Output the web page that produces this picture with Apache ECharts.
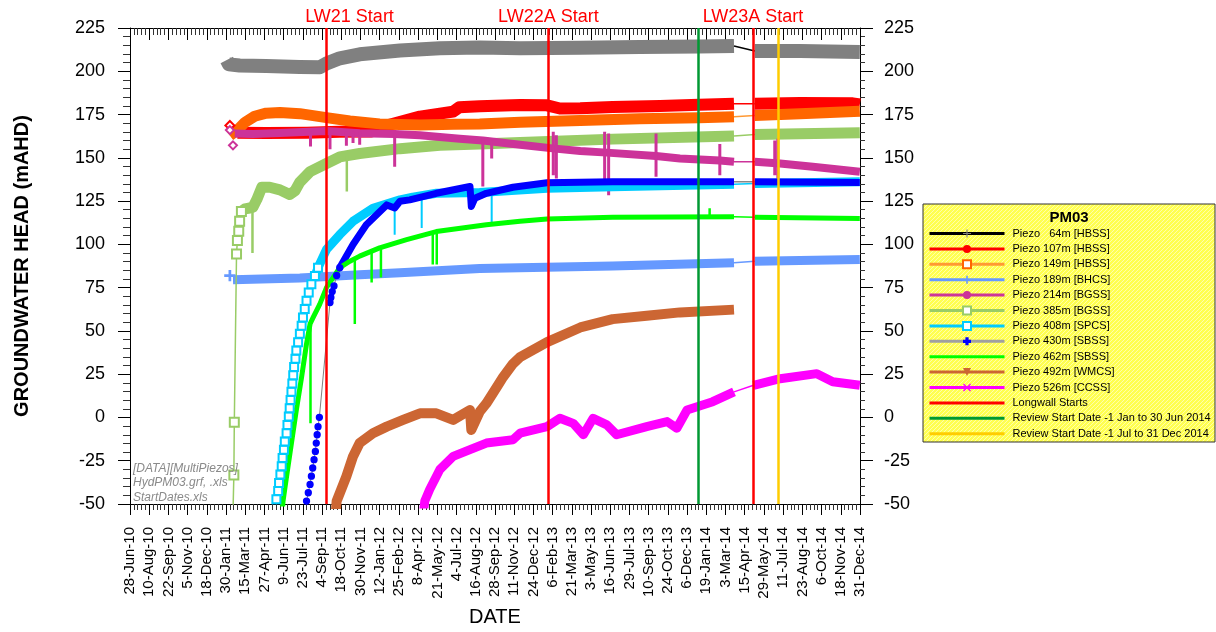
<!DOCTYPE html>
<html><head><meta charset="utf-8">
<script src="https://cdn.jsdelivr.net/npm/echarts@6/dist/echarts.min.js"></script>
<style>html,body{margin:0;padding:0;background:#fff}#c{width:1216px;height:632px}</style>
</head><body><div id="c"></div>
<script>
// ---------- axis / tick data ----------
const AXIS_START_DAY = -0.47;      // days after 28-Jun-2010
const TICK_DAYS = 43.3662;         // days between labelled ticks
const N_TICKS = 38;
const MONTHS = ['Jan','Feb','Mar','Apr','May','Jun','Jul','Aug','Sep','Oct','Nov','Dec'];
const Y_MIN = -50, Y_MAX = 225, Y_STEP = 25;

// ---------- event lines ----------
const LW_NAMES = ['LW21 Start','LW22A Start','LW23A Start'];
const LW_DATES = ['2011-09-14','2013-01-27','2014-05-04'];
const REVIEW1_DATE = '2014-01-01';
const REVIEW2_DATE = '2014-07-01';

// ---------- series values [date, mAHD]; null = logger gap ----------
const p64 = [['2011-02-01',206.5],['2011-02-06',204.0],['2011-03-02',203.3],['2011-05-01',203.0],['2011-07-16',202.5],['2011-08-30',202.3],['2011-09-14',204.5],['2011-10-14',207.5],['2011-11-28',209.8],['2012-02-27',212.0],['2012-05-27',213.3],['2012-08-25',213.8],['2012-11-24',213.3],['2013-04-09',213.6],['2013-08-21',214.0],['2014-01-02',214.3],['2014-03-22',214.6],['2014-04-14',null],['2014-05-08',211.7],['2014-08-18',211.7],['2014-12-31',211.2]];
const p107 = [['2011-02-25',164.5],['2011-05-01',164.3],['2011-08-01',164.5],['2011-10-14',165.0],['2011-12-25',165.2],['2012-01-28',168.7],['2012-04-12',173.8],['2012-06-26',176.7],['2012-07-10',179.2],['2012-08-25',179.8],['2012-11-24',180.5],['2013-01-24',180.3],['2013-02-22',178.5],['2013-04-09',178.6],['2013-06-21',179.3],['2013-10-06',180.0],['2014-01-02',180.6],['2014-03-22',181.3],['2014-04-14',null],['2014-05-08',181.2],['2014-08-18',181.6],['2014-12-15',181.5],['2014-12-31',180.8]];
const p149 = [['2011-02-08',162.8],['2011-02-25',166.0],['2011-03-14',170.5],['2011-04-05',174.0],['2011-05-01',175.8],['2011-06-01',176.2],['2011-07-16',175.5],['2011-09-14',173.2],['2011-11-06',171.3],['2012-01-12',169.6],['2012-04-12',169.0],['2012-06-26',169.4],['2012-08-25',169.6],['2012-11-24',170.6],['2013-04-09',171.6],['2013-08-21',172.5],['2014-01-02',173.2],['2014-03-22',173.7],['2014-04-14',null],['2014-05-08',174.4],['2014-08-18',175.5],['2014-12-31',176.9]];
const p189 = [['2011-02-15',79.5],['2011-07-16',80.6],['2011-11-28',82.5],['2012-02-27',83.6],['2012-08-25',86.0],['2013-06-21',87.5],['2014-03-22',89.4],['2014-04-14',null],['2014-05-08',90.3],['2014-12-31',91.3]];
const p214 = [['2011-02-19',164.0],['2011-04-01',163.8],['2011-06-01',164.3],['2011-09-14',165.5],['2011-11-28',164.2],['2012-02-15',163.8],['2012-04-12',163.0],['2012-07-11',161.0],['2012-09-01',160.0],['2012-11-24',157.5],['2013-02-11',155.3],['2013-04-09',154.0],['2013-06-08',153.0],['2013-09-27',151.0],['2013-11-20',149.6],['2014-02-18',148.4],['2014-03-22',147.7],['2014-04-14',null],['2014-05-08',147.7],['2014-07-04',146.7],['2014-09-16',144.8],['2014-12-31',142.0]];
const p214Spikes = [['2011-08-09',165,156.5],['2011-09-22',166,155.0],['2011-10-29',165,157.0],['2011-11-13',165,158.5],['2011-11-28',165,157.5],['2012-02-15',164,144.8],['2012-09-01',162,133.5],['2012-09-21',160,149.6],['2013-02-07',165,140.0],['2013-02-14',163,138.0],['2013-06-03',165,135.0],['2013-06-12',164,128.4],['2013-09-27',164,139.0],['2014-02-18',158,140.0],['2014-06-22',160,140.0],['2014-06-29',161,138.0]];
const p385Rise = [['2011-02-15',-55],['2011-02-17',-33.3],['2011-02-18',-2.8],['2011-02-23',94.5],['2011-02-25',102.2],['2011-02-28',107.6],['2011-03-02',113.4],['2011-03-06',119.0]];
const p385 = [['2011-03-06',119.0],['2011-03-14',120.5],['2011-03-25',121.0],['2011-04-01',121.5],['2011-04-10',126.0],['2011-04-21',133.0],['2011-05-09',133.0],['2011-06-01',131.5],['2011-06-23',128.8],['2011-07-05',131.0],['2011-07-16',136.0],['2011-08-08',142.0],['2011-09-14',146.7],['2011-10-14',150.5],['2011-11-28',152.5],['2012-02-27',155.3],['2012-05-27',157.2],['2012-08-25',158.0],['2012-11-24',158.8],['2013-06-21',160.8],['2014-03-22',162.6],['2014-04-14',null],['2014-05-08',163.5],['2014-12-31',164.5]];
const p385Spikes = [['2011-03-31',120,95.0],['2011-10-30',151,130.5]];
const p408Rise = [['2011-05-24',-47.3],['2011-05-28',-42.5],['2011-05-30',-37.8],['2011-06-02',-33.0],['2011-06-05',-28.2],['2011-06-07',-23.4],['2011-06-10',-18.6],['2011-06-12',-13.9],['2011-06-16',-9.1],['2011-06-18',-4.3],['2011-06-21',0.5],['2011-06-23',5.3],['2011-06-25',10.1],['2011-06-27',14.8],['2011-06-29',19.6],['2011-07-01',24.4],['2011-07-03',29.2],['2011-07-06',33.9],['2011-07-08',38.7],['2011-07-12',43.5],['2011-07-16',48.3],['2011-07-20',53.0],['2011-07-23',57.8],['2011-07-27',62.6],['2011-07-31',67.4],['2011-08-05',72.2],['2011-08-11',77.0],['2011-08-19',81.7],['2011-08-26',86.5]];
const p408 = [['2011-08-19',81.7],['2011-08-26',86.5],['2011-09-14',97.0],['2011-10-14',105.6],['2011-11-13',113.3],['2011-12-28',120.9],['2012-02-27',125.7],['2012-03-27',127.3],['2012-05-19',129.5],['2012-08-25',130.0],['2013-01-24',132.4],['2013-06-21',133.3],['2014-03-22',134.7],['2014-04-14',null],['2014-05-08',135.2],['2014-12-31',136.2]];
const p408Spikes = [['2012-02-15',125,105.6],['2012-04-16',128,109.4],['2012-09-21',130.8,112.3]];
const p430Rise = [['2011-07-31',-48.3],['2011-08-04',-43.5],['2011-08-08',-38.7],['2011-08-11',-33.9],['2011-08-14',-29.2],['2011-08-17',-24.4],['2011-08-20',-19.6],['2011-08-22',-14.8],['2011-08-24',-10.0],['2011-08-26',-5.3],['2011-08-29',0.1],['2011-09-22',66.4],['2011-09-24',69.3],['2011-09-27',72.7],['2011-10-01',76.0],['2011-10-07',82.0],['2011-10-14',86.5]];
const p430 = [['2011-10-14',86.5],['2011-11-13',99.9],['2011-12-13',111.3],['2012-01-28',122.8],['2012-02-15',121.0],['2012-02-27',124.9],['2012-03-20',125.7],['2012-05-19',129.5],['2012-08-03',133.4],['2012-08-06',121.9],['2012-08-14',126.6],['2012-09-09',129.5],['2012-11-08',133.0],['2013-01-24',135.6],['2013-06-21',136.2],['2014-03-22',136.2],['2014-04-14',null],['2014-05-08',136.2],['2014-12-31',135.8]];
const p462 = [['2011-06-06',-55],['2011-06-08',-48.3],['2011-06-16',-34.0],['2011-06-27',-14.8],['2011-07-08',4.3],['2011-07-20',23.4],['2011-07-31',42.5],['2011-08-08',54.0],['2011-08-15',57.8],['2011-08-30',65.5],['2011-09-14',75.0],['2011-09-29',80.8],['2011-10-14',86.5],['2011-11-06',90.3],['2011-11-28',93.2],['2012-01-12',98.0],['2012-03-13',102.7],['2012-05-19',107.4],['2012-09-09',111.3],['2012-11-24',113.3],['2013-01-24',114.6],['2013-06-21',115.7],['2014-03-22',115.9],['2014-04-14',null],['2014-05-08',115.6],['2014-12-31',115.0]];
const p462Spikes = [['2011-08-09',55,-3.4],['2011-11-17',92,54.0],['2011-12-25',97,77.9],['2012-01-15',98.5,80.8],['2012-05-11',107,88.4],['2012-05-20',107.5,88.4],['2014-01-26',120.9,115.9]];
const p492 = [['2011-10-05',-55],['2011-10-07',-48.3],['2011-10-29',-34.0],['2011-11-13',-22.5],['2011-11-28',-14.8],['2011-12-28',-9.1],['2012-01-28',-5.3],['2012-03-05',-1.4],['2012-04-12',2.4],['2012-05-19',2.4],['2012-06-26',-1.4],['2012-08-03',4.3],['2012-08-06',-7.2],['2012-08-25',3.3],['2012-09-09',8.1],['2012-10-03',17.7],['2012-10-17',23.4],['2012-11-08',31.0],['2012-11-24',34.9],['2013-01-24',43.5],['2013-04-09',52.0],['2013-06-21',56.8],['2013-09-06',58.8],['2013-11-20',60.7],['2014-03-22',62.3]];
const p526 = [['2012-04-20',-55],['2012-04-23',-48.3],['2012-05-04',-41.6],['2012-05-27',-30.1],['2012-06-26',-22.5],['2012-08-03',-18.6],['2012-09-09',-14.8],['2012-11-08',-12.9],['2012-11-24',-9.1],['2013-01-24',-5.3],['2013-02-22',-0.5],['2013-03-24',-3.4],['2013-04-16',-10.0],['2013-05-08',-0.5],['2013-06-08',-4.3],['2013-06-30',-10.0],['2013-09-06',-5.3],['2013-10-22',-2.4],['2013-11-13',-6.2],['2013-12-06',4.3],['2014-02-02',9.1],['2014-03-22',14.8],['2014-04-14',null],['2014-05-05',18.6],['2014-07-04',22.4],['2014-09-25',25.3],['2014-10-31',20.6],['2014-12-31',18.6]];
const p107Start = [['2011-02-08',168.7]];
const p214Start = [['2011-02-08',166.0],['2011-02-15',157.2]];
const p189Start = [['2011-02-08',81.9]];

// ---------- helpers ----------
const START = Date.UTC(2010,5,28);
function dayOf(s){ const a=s.split('-').map(Number); return (Date.UTC(a[0],a[1]-1,a[2])-START)/86400000; }
function xOf(s){ return (dayOf(s)-AXIS_START_DAY)/TICK_DAYS; }
function toPts(arr){ return arr.map(p=>[xOf(p[0]), p[1]]); }
function spikePts(arr){ const out=[]; arr.forEach(s=>{ const x=xOf(s[0]); out.push([x,s[1]],[x,s[2]],[x,null]); }); return out; }
function fmtTick(k){
  const day = Math.round(k*TICK_DAYS + AXIS_START_DAY);
  const d = new Date(START + day*86400000);
  return d.getUTCDate()+'-'+MONTHS[d.getUTCMonth()]+'-'+String(d.getUTCFullYear()).slice(2);
}
function connector(arr){
  const i = arr.findIndex(p=>p[1]===null);
  if (i<1 || i>=arr.length-1) return null;
  return [arr[i-1], arr[i+1]];
}
const FONT = "'Liberation Sans', Arial, Helvetica, sans-serif";
const PLUS = 'path://M4.3,0H5.7V4.3H10V5.7H5.7V10H4.3V5.7H0V4.3H4.3Z';
const VPLUS = 'path://M4.4,0H5.6V4.5H8V5.5H5.6V10H4.4V5.5H2V4.5H4.4Z';
const FATCROSS = 'path://M3,0H7V3H10V7H7V10H3V7H0V3H3Z';
const DOWNTRI = 'path://M0,0H10L5,10Z';
const XMARK = 'path://M1.2,0L5,3.8L8.8,0L10,1.2L6.2,5L10,8.8L8.8,10L5,6.2L1.2,10L0,8.8L3.8,5L0,1.2Z';

// ---------- series styling (legend order) ----------
const PIEZOS = [
 {name:'Piezo   64m [HBSS]', data:p64,  color:'#808080', width:14, conn:'#000000', leg:'#000000', sym:PLUS,       symColor:'#808080'},
 {name:'Piezo 107m [HBSS]', data:p107, color:'#FF0000', width:12, conn:'#FF0000', leg:'#FF0000', sym:'circle',   symColor:'#FF0000'},
 {name:'Piezo 149m [HBSS]', data:p149, color:'#FF6600', width:11, conn:'#FF9933', leg:'#FF9933', sym:'emptyRect', symColor:'#FF6600'},
 {name:'Piezo 189m [BHCS]', data:p189, color:'#6699FF', width:9,  conn:'#6699FF', leg:'#6699FF', sym:VPLUS,      symColor:'#6699FF'},
 {name:'Piezo 214m [BGSS]', data:p214, color:'#CC3399', width:8,  conn:'#CC3399', leg:'#CC3399', sym:'circle',   symColor:'#CC3399', spikes:p214Spikes, spikeW:3},
 {name:'Piezo 385m [BGSS]', data:p385, color:'#99CC66', width:11, conn:'#99CC66', leg:'#99CC66', sym:'emptyRect', symColor:'#99CC66', spikes:p385Spikes, spikeW:2.5},
 {name:'Piezo 408m [SPCS]', data:p408, color:'#00CCFF', width:9,  conn:'#00CCFF', leg:'#00CCFF', sym:'emptyRect', symColor:'#00CCFF', spikes:p408Spikes, spikeW:2},
 {name:'Piezo 430m [SBSS]', data:p430, color:'#0000FF', width:7,  conn:'#888888', leg:'#A0A0A0', sym:FATCROSS,   symColor:'#0000FF'},
 {name:'Piezo 462m [SBSS]', data:p462, color:'#00FF00', width:5,  conn:'#00FF00', leg:'#00FF00', sym:'circle',   symColor:'#00FF00', hideSym:true, spikes:p462Spikes, spikeW:2.5},
 {name:'Piezo 492m [WMCS]', data:p492, color:'#CC6633', width:10, conn:'#CC6633', leg:'#CC6633', sym:DOWNTRI,    symColor:'#CC6633'},
 {name:'Piezo 526m [CCSS]', data:p526, color:'#FF00FF', width:9,  conn:'#FF00FF', leg:'#FF00FF', sym:XMARK,      symColor:'#FF00FF'}
];
const DRAW_ORDER = [0,1,2,3,5,4,6,7,8,9,10];
const EVENTS = [
 {name:'Longwall Starts', color:'#FF0000'},
 {name:'Review Start Date -1 Jan to 30 Jun 2014', color:'#009933'},
 {name:'Review Start Date -1 Jul to 31 Dec 2014', color:'#FFCC00'}
];

// ---------- build series ----------
const series = [];
DRAW_ORDER.forEach(i=>{
  const s = PIEZOS[i];
  series.push({name:s.name, type:'line', data:toPts(s.data), symbol:s.sym, showSymbol:false,
    connectNulls:false, silent:true, z:2,
    lineStyle:{color:s.color, width:s.width, cap:'butt', join:'round'}, itemStyle:{color:s.color}});
  if (s.spikes) series.push({name:'_spk'+i, type:'line', data:spikePts(s.spikes), symbol:'none', silent:true, z:2,
    connectNulls:false, lineStyle:{color:s.color, width:s.spikeW, cap:'butt'}});
  const c = connector(s.data);
  if (c) series.push({name:'_conn'+i, type:'line', data:toPts(c), symbol:'none', silent:true, z:2,
    lineStyle:{color:s.conn, width:1.5}});
});
function markerSeries(id, arr, sym, size, color, lineColor, lineWidth){
  return {name:id, type:'line', data:toPts(arr), symbol:sym, symbolSize:size, showSymbol:true, showAllSymbol:true,
    silent:true, z:3, lineStyle:{color:lineColor, width:lineWidth}, itemStyle:{color:color, borderColor:color, borderWidth:1.3}};
}
series.push(markerSeries('_r385', p385Rise, 'emptyRect', 9, '#99CC66', '#99CC66', 1.5));
series.push(markerSeries('_r408', p408Rise, 'emptyRect', 8, '#00CCFF', '#00CCFF', 1));
series.push(markerSeries('_r430', p430Rise, 'circle', 6, '#0000FF', '#808080', 1));
series.push(markerSeries('_s107', p107Start, 'emptyDiamond', 9, '#FF0000', '#FF0000', 0));
series.push(markerSeries('_s214', p214Start, 'emptyDiamond', 8, '#CC3399', '#CC3399', 0));
series.push(markerSeries('_s189', p189Start, PLUS, 10, '#6699FF', '#6699FF', 0));

series.push({name:EVENTS[0].name, type:'line', data:[], symbol:'none', lineStyle:{color:EVENTS[0].color, width:2.5},
  markLine:{silent:true, symbol:['none','none'], animation:false,
    lineStyle:{color:EVENTS[0].color, width:2.5, type:'solid'},
    label:{show:true, position:'end', color:'#FF0000', fontSize:18, fontFamily:FONT, distance:2, formatter:p=>p.name},
    data: LW_DATES.map((d,i)=>({name:LW_NAMES[i], xAxis:xOf(d), label: i===0 ? {padding:[0,0,0,46]} : {}}))}});
[[EVENTS[1], REVIEW1_DATE],[EVENTS[2], REVIEW2_DATE]].forEach(([ev,d])=>{
  series.push({name:ev.name, type:'line', data:[], symbol:'none', lineStyle:{color:ev.color, width:2.5},
    markLine:{silent:true, symbol:['none','none'], animation:false,
      lineStyle:{color:ev.color, width:2.5, type:'solid'}, label:{show:false},
      data:[{xAxis:xOf(d)}]}});
});

const legendData = PIEZOS.map(s=>({name:s.name, lineStyle:{color:s.leg, width:3},
    itemStyle: s.hideSym ? {color:s.symColor, opacity:0} : {color:s.symColor}}))
  .concat(EVENTS.map(e=>({name:e.name, icon:'path://M0,0H75V3H0Z', itemStyle:{color:e.color}})));

// ---------- hatch pattern for legend box ----------
const pc = document.createElement('canvas'); pc.width = 4; pc.height = 4;
const g = pc.getContext('2d');
g.fillStyle = '#FFFF50'; g.fillRect(0,0,4,4);
g.fillStyle = '#FFFFA8'; for (let i=0;i<4;i++) g.fillRect(i,3-i,1,1);

const tickStyle = {color:'#000', width:1};
const xBase = {type:'value', min:0, max:N_TICKS, interval:1, splitLine:{show:false},
  axisLine:{show:true, onZero:false, lineStyle:{color:'#000', width:1}}};
const yBase = {type:'value', min:Y_MIN, max:Y_MAX, interval:Y_STEP, splitLine:{show:false},
  axisLine:{show:true, onZero:false, lineStyle:{color:'#000', width:1}}};

const option = {
  animation:false,
  backgroundColor:'#ffffff',
  grid:{left:130, right:356, top:28, bottom:124, containLabel:false},
  xAxis:[
    Object.assign({}, xBase, {position:'bottom',
      axisTick:{show:true, length:11, lineStyle:tickStyle},
      minorTick:{show:true, splitNumber:5, length:6, lineStyle:{color:'#333', width:1}},
      axisLabel:{rotate:90, fontSize:15, fontFamily:FONT, color:'#000', margin:23, formatter:fmtTick},
      name:'DATE', nameLocation:'middle', nameGap:103,
      nameTextStyle:{fontSize:20, fontFamily:FONT, color:'#000'}}),
    Object.assign({}, xBase, {position:'top',
      axisTick:{show:true, inside:true, length:12, lineStyle:tickStyle},
      minorTick:{show:true, splitNumber:5, length:7, lineStyle:{color:'#333', width:1}},
      axisLabel:{show:false}})
  ],
  yAxis:[
    Object.assign({}, yBase, {position:'left',
      axisTick:{show:true, length:12, lineStyle:tickStyle},
      minorTick:{show:true, splitNumber:5, length:7, lineStyle:{color:'#333', width:1}},
      axisLabel:{fontSize:18, fontFamily:FONT, color:'#000', margin:25},
      name:'GROUNDWATER HEAD (mAHD)', nameLocation:'middle', nameGap:98,
      nameTextStyle:{fontSize:20, fontWeight:'bold', fontFamily:FONT, color:'#000'}}),
    Object.assign({}, yBase, {position:'right',
      axisTick:{show:true, length:13, lineStyle:tickStyle},
      minorTick:{show:true, splitNumber:5, length:5, lineStyle:{color:'#333', width:1}},
      axisLabel:{fontSize:18, fontFamily:FONT, color:'#000', margin:24}})
  ],
  legend:{orient:'vertical', left:928, top:228, padding:0, itemWidth:75, itemHeight:10, itemGap:4.4,
    selectedMode:false, data:legendData,
    lineStyle:{width:3}, itemStyle:{borderWidth:0},
    textStyle:{fontSize:11, fontFamily:FONT, color:'#000', padding:[0,0,0,3]}},
  graphic:[
    {type:'rect', z:-1, shape:{x:923, y:204, width:292, height:238},
      style:{fill:{type:'pattern', image:pc, repeat:'repeat'}, stroke:'#333', lineWidth:1}},
    {type:'text', z:10, style:{x:1069, y:218, text:'PM03', textAlign:'center', textVerticalAlign:'middle',
      font:"bold 15px 'Liberation Sans', Arial, sans-serif", fill:'#000'}},
    {type:'text', z:10, style:{x:133, y:461, text:'[DATA][MultiPiezos]\nHydPM03.grf, .xls\nStartDates.xls',
      font:"italic 12px 'Liberation Sans', Arial, sans-serif", fill:'#8a8a8a', lineHeight:14.5}}
  ],
  series: series
};
const chart = echarts.init(document.getElementById('c'), null, {renderer:'canvas'});
chart.setOption(option);
</script></body></html>
